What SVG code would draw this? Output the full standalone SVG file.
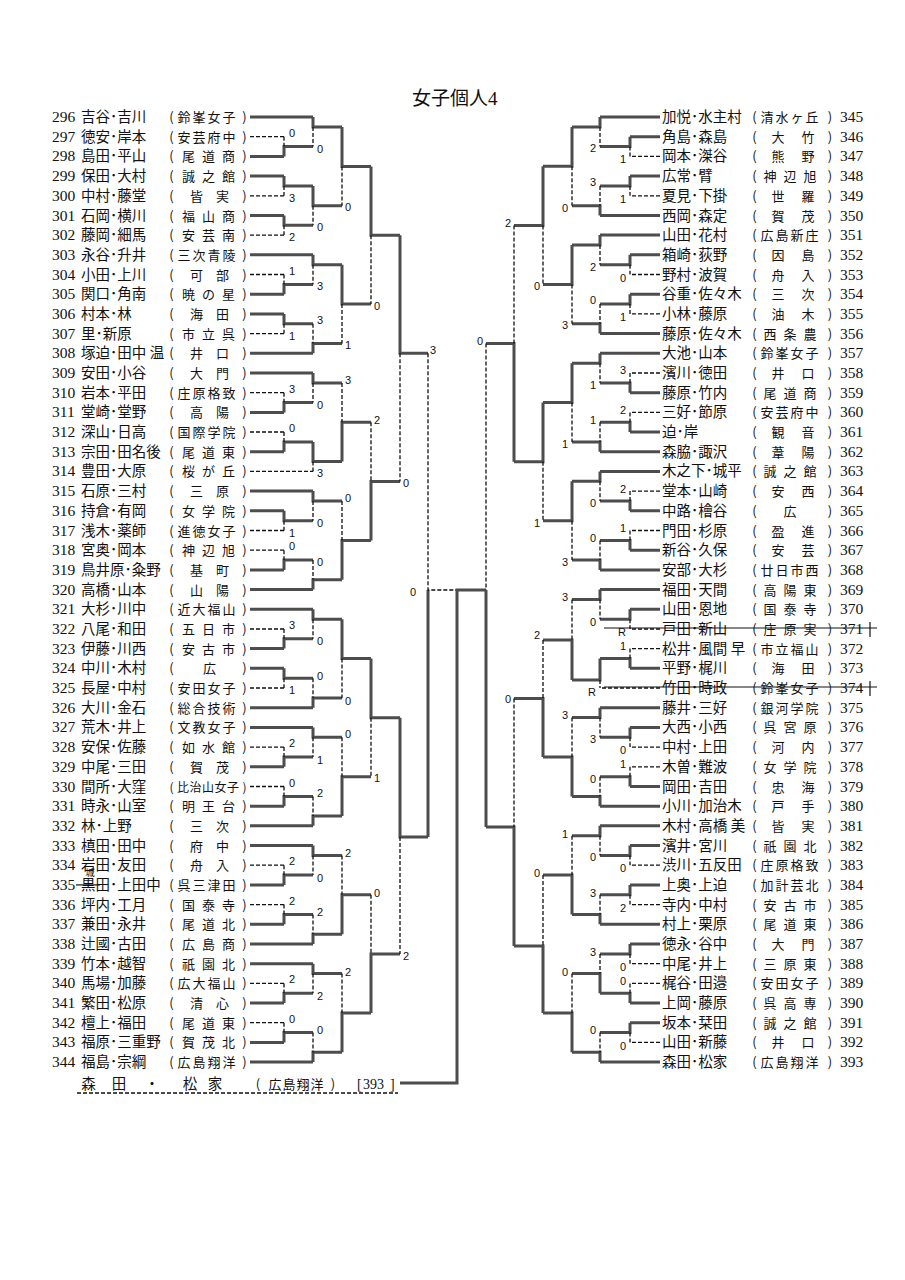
<svg xmlns="http://www.w3.org/2000/svg" width="905" height="1280" viewBox="0 0 905 1280">
<style>
.t{fill:none;stroke:#4d4d4d;stroke-width:3}
.d{fill:none;stroke:#111;stroke-width:1.3;stroke-dasharray:4 2}
.num{font-family:"Liberation Serif",serif;font-size:15.5px;fill:#111}
.nm{font-family:"Liberation Serif","Noto Sans CJK JP",sans-serif;font-size:14.5px;fill:#111}
.sc{font-family:"Noto Sans CJK JP",sans-serif;font-size:13px;text-anchor:middle;fill:#111}
.sl{font-family:"Liberation Sans",sans-serif;font-size:11px;fill:#111}
.sr{font-family:"Liberation Sans",sans-serif;font-size:11px;fill:#111;text-anchor:end}
.ttl{font-family:"Liberation Serif","Noto Sans CJK JP",serif;font-size:19px;fill:#111}
.st{stroke:#111;stroke-width:1.2}
</style>
<rect width="905" height="1280" fill="#fff"/>
<text class="ttl" x="412" y="105">女子個人4</text>

<g id="left-entries">
<g id="n296" transform="translate(0 117)"><text class="num" x="52" y="5">296</text><text class="nm" x="81" y="5">吉谷･吉川</text><text class="sc" x="171.5 184 199 214 229 244.5" y="5">(鈴峯女子)</text></g>
<g id="n297" transform="translate(0 136.7)"><text class="num" x="52" y="5">297</text><text class="nm" x="81" y="5">徳安･岸本</text><text class="sc" x="171.5 184 199 214 229 244.5" y="5">(安芸府中)</text></g>
<g id="n298" transform="translate(0 156.4)"><text class="num" x="52" y="5">298</text><text class="nm" x="81" y="5">島田･平山</text><text class="sc" x="171.5 188.5 208.5 228.5 244.5" y="5">(尾道商)</text></g>
<g id="n299" transform="translate(0 176.1)"><text class="num" x="52" y="5">299</text><text class="nm" x="81" y="5">保田･大村</text><text class="sc" x="171.5 188.5 208.5 228.5 244.5" y="5">(誠之館)</text></g>
<g id="n300" transform="translate(0 195.8)"><text class="num" x="52" y="5">300</text><text class="nm" x="81" y="5">中村･藤堂</text><text class="sc" x="171.5 196.5 222.5 244.5" y="5">(皆実)</text></g>
<g id="n301" transform="translate(0 215.5)"><text class="num" x="52" y="5">301</text><text class="nm" x="81" y="5">石岡･横川</text><text class="sc" x="171.5 188.5 208.5 228.5 244.5" y="5">(福山商)</text></g>
<g id="n302" transform="translate(0 235.1)"><text class="num" x="52" y="5">302</text><text class="nm" x="81" y="5">藤岡･細馬</text><text class="sc" x="171.5 188.5 208.5 228.5 244.5" y="5">(安芸南)</text></g>
<g id="n303" transform="translate(0 254.8)"><text class="num" x="52" y="5">303</text><text class="nm" x="81" y="5">永谷･升井</text><text class="sc" x="171.5 184 199 214 229 244.5" y="5">(三次青陵)</text></g>
<g id="n304" transform="translate(0 274.5)"><text class="num" x="52" y="5">304</text><text class="nm" x="81" y="5">小田･上川</text><text class="sc" x="171.5 196.5 222.5 244.5" y="5">(可部)</text></g>
<g id="n305" transform="translate(0 294.2)"><text class="num" x="52" y="5">305</text><text class="nm" x="81" y="5">関口･角南</text><text class="sc" x="171.5 188.5 208.5 228.5 244.5" y="5">(暁の星)</text></g>
<g id="n306" transform="translate(0 313.9)"><text class="num" x="52" y="5">306</text><text class="nm" x="81" y="5">村本･林</text><text class="sc" x="171.5 196.5 222.5 244.5" y="5">(海田)</text></g>
<g id="n307" transform="translate(0 333.6)"><text class="num" x="52" y="5">307</text><text class="nm" x="81" y="5">里･新原</text><text class="sc" x="171.5 188.5 208.5 228.5 244.5" y="5">(市立呉)</text></g>
<g id="n308" transform="translate(0 353.3)"><text class="num" x="52" y="5">308</text><text class="nm" x="81" y="5">塚迫･田中 温</text><text class="sc" x="171.5 196.5 222.5 244.5" y="5">(井口)</text></g>
<g id="n309" transform="translate(0 373)"><text class="num" x="52" y="5">309</text><text class="nm" x="81" y="5">安田･小谷</text><text class="sc" x="171.5 196.5 222.5 244.5" y="5">(大門)</text></g>
<g id="n310" transform="translate(0 392.7)"><text class="num" x="52" y="5">310</text><text class="nm" x="81" y="5">岩本･平田</text><text class="sc" x="171.5 184 199 214 229 244.5" y="5">(庄原格致)</text></g>
<g id="n311" transform="translate(0 412.4)"><text class="num" x="52" y="5">311</text><text class="nm" x="81" y="5">堂崎･堂野</text><text class="sc" x="171.5 196.5 222.5 244.5" y="5">(高陽)</text></g>
<g id="n312" transform="translate(0 432)"><text class="num" x="52" y="5">312</text><text class="nm" x="81" y="5">深山･日高</text><text class="sc" x="171.5 184 199 214 229 244.5" y="5">(国際学院)</text></g>
<g id="n313" transform="translate(0 451.7)"><text class="num" x="52" y="5">313</text><text class="nm" x="81" y="5">宗田･田名後</text><text class="sc" x="171.5 188.5 208.5 228.5 244.5" y="5">(尾道東)</text></g>
<g id="n314" transform="translate(0 471.4)"><text class="num" x="52" y="5">314</text><text class="nm" x="81" y="5">豊田･大原</text><text class="sc" x="171.5 188.5 208.5 228.5 244.5" y="5">(桜が丘)</text></g>
<g id="n315" transform="translate(0 491.1)"><text class="num" x="52" y="5">315</text><text class="nm" x="81" y="5">石原･三村</text><text class="sc" x="171.5 196.5 222.5 244.5" y="5">(三原)</text></g>
<g id="n316" transform="translate(0 510.8)"><text class="num" x="52" y="5">316</text><text class="nm" x="81" y="5">持倉･有岡</text><text class="sc" x="171.5 188.5 208.5 228.5 244.5" y="5">(女学院)</text></g>
<g id="n317" transform="translate(0 530.5)"><text class="num" x="52" y="5">317</text><text class="nm" x="81" y="5">浅木･薬師</text><text class="sc" x="171.5 184 199 214 229 244.5" y="5">(進徳女子)</text></g>
<g id="n318" transform="translate(0 550.2)"><text class="num" x="52" y="5">318</text><text class="nm" x="81" y="5">宮奥･岡本</text><text class="sc" x="171.5 188.5 208.5 228.5 244.5" y="5">(神辺旭)</text></g>
<g id="n319" transform="translate(0 569.9)"><text class="num" x="52" y="5">319</text><text class="nm" x="81" y="5">鳥井原･粂野</text><text class="sc" x="171.5 196.5 222.5 244.5" y="5">(基町)</text></g>
<g id="n320" transform="translate(0 589.6)"><text class="num" x="52" y="5">320</text><text class="nm" x="81" y="5">高橋･山本</text><text class="sc" x="171.5 196.5 222.5 244.5" y="5">(山陽)</text></g>
<g id="n321" transform="translate(0 609.3)"><text class="num" x="52" y="5">321</text><text class="nm" x="81" y="5">大杉･川中</text><text class="sc" x="171.5 184 199 214 229 244.5" y="5">(近大福山)</text></g>
<g id="n322" transform="translate(0 629)"><text class="num" x="52" y="5">322</text><text class="nm" x="81" y="5">八尾･和田</text><text class="sc" x="171.5 188.5 208.5 228.5 244.5" y="5">(五日市)</text></g>
<g id="n323" transform="translate(0 648.6)"><text class="num" x="52" y="5">323</text><text class="nm" x="81" y="5">伊藤･川西</text><text class="sc" x="171.5 188.5 208.5 228.5 244.5" y="5">(安古市)</text></g>
<g id="n324" transform="translate(0 668.3)"><text class="num" x="52" y="5">324</text><text class="nm" x="81" y="5">中川･木村</text><text class="sc" x="171.5 209.5 244.5" y="5">(広)</text></g>
<g id="n325" transform="translate(0 688)"><text class="num" x="52" y="5">325</text><text class="nm" x="81" y="5">長屋･中村</text><text class="sc" x="171.5 184 199 214 229 244.5" y="5">(安田女子)</text></g>
<g id="n326" transform="translate(0 707.7)"><text class="num" x="52" y="5">326</text><text class="nm" x="81" y="5">大川･金石</text><text class="sc" x="171.5 184 199 214 229 244.5" y="5">(総合技術)</text></g>
<g id="n327" transform="translate(0 727.4)"><text class="num" x="52" y="5">327</text><text class="nm" x="81" y="5">荒木･井上</text><text class="sc" x="171.5 184 199 214 229 244.5" y="5">(文教女子)</text></g>
<g id="n328" transform="translate(0 747.1)"><text class="num" x="52" y="5">328</text><text class="nm" x="81" y="5">安保･佐藤</text><text class="sc" x="171.5 188.5 208.5 228.5 244.5" y="5">(如水館)</text></g>
<g id="n329" transform="translate(0 766.8)"><text class="num" x="52" y="5">329</text><text class="nm" x="81" y="5">中尾･三田</text><text class="sc" x="171.5 196.5 222.5 244.5" y="5">(賀茂)</text></g>
<g id="n330" transform="translate(0 786.5)"><text class="num" x="52" y="5">330</text><text class="nm" x="81" y="5">間所･大窪</text><text class="sc" x="171.5 183 195.5 208 220.5 233 244.5" y="5" style="font-size:12px">(比治山女子)</text></g>
<g id="n331" transform="translate(0 806.2)"><text class="num" x="52" y="5">331</text><text class="nm" x="81" y="5">時永･山室</text><text class="sc" x="171.5 188.5 208.5 228.5 244.5" y="5">(明王台)</text></g>
<g id="n332" transform="translate(0 825.8)"><text class="num" x="52" y="5">332</text><text class="nm" x="81" y="5">林･上野</text><text class="sc" x="171.5 196.5 222.5 244.5" y="5">(三次)</text></g>
<g id="n333" transform="translate(0 845.5)"><text class="num" x="52" y="5">333</text><text class="nm" x="81" y="5">槙田･田中</text><text class="sc" x="171.5 196.5 222.5 244.5" y="5">(府中)</text></g>
<g id="n334" transform="translate(0 865.2)"><text class="num" x="52" y="5">334</text><text class="nm" x="81" y="5">岩田･友田</text><text class="sc" x="171.5 196.5 222.5 244.5" y="5">(舟入)</text></g>
<g id="n335" transform="translate(0 884.9)"><text class="num" x="52" y="5">335</text><text class="nm" x="81" y="5">黒田･上田中</text><text class="sc" x="171.5 184 199 214 229 244.5" y="5">(呉三津田)</text><line class="st" x1="76" y1="0" x2="100" y2="0"/><text class="sc" x="90" y="-8.5" style="font-size:9.5px">城</text></g>
<g id="n336" transform="translate(0 904.6)"><text class="num" x="52" y="5">336</text><text class="nm" x="81" y="5">坪内･工月</text><text class="sc" x="171.5 188.5 208.5 228.5 244.5" y="5">(国泰寺)</text></g>
<g id="n337" transform="translate(0 924.3)"><text class="num" x="52" y="5">337</text><text class="nm" x="81" y="5">兼田･永井</text><text class="sc" x="171.5 188.5 208.5 228.5 244.5" y="5">(尾道北)</text></g>
<g id="n338" transform="translate(0 944)"><text class="num" x="52" y="5">338</text><text class="nm" x="81" y="5">辻國･古田</text><text class="sc" x="171.5 188.5 208.5 228.5 244.5" y="5">(広島商)</text></g>
<g id="n339" transform="translate(0 963.7)"><text class="num" x="52" y="5">339</text><text class="nm" x="81" y="5">竹本･越智</text><text class="sc" x="171.5 188.5 208.5 228.5 244.5" y="5">(祇園北)</text></g>
<g id="n340" transform="translate(0 983.4)"><text class="num" x="52" y="5">340</text><text class="nm" x="81" y="5">馬場･加藤</text><text class="sc" x="171.5 184 199 214 229 244.5" y="5">(広大福山)</text></g>
<g id="n341" transform="translate(0 1003.1)"><text class="num" x="52" y="5">341</text><text class="nm" x="81" y="5">繁田･松原</text><text class="sc" x="171.5 196.5 222.5 244.5" y="5">(清心)</text></g>
<g id="n342" transform="translate(0 1022.7)"><text class="num" x="52" y="5">342</text><text class="nm" x="81" y="5">檀上･福田</text><text class="sc" x="171.5 188.5 208.5 228.5 244.5" y="5">(尾道東)</text></g>
<g id="n343" transform="translate(0 1042.4)"><text class="num" x="52" y="5">343</text><text class="nm" x="81" y="5">福原･三重野</text><text class="sc" x="171.5 188.5 208.5 228.5 244.5" y="5">(賀茂北)</text></g>
<g id="n344" transform="translate(0 1062.1)"><text class="num" x="52" y="5">344</text><text class="nm" x="81" y="5">福島･宗綱</text><text class="sc" x="171.5 184 199 214 229 244.5" y="5">(広島翔洋)</text></g>
</g>

<g id="champion" transform="translate(0 1083)">
<text class="nm" x="88.5 119 152 190 215" y="5.5" style="text-anchor:middle">森田・松家</text>
<text class="sc" x="258 275 289 303 317 333" y="5.5" style="font-size:13px">(広島翔洋)</text>
<text class="num" x="357" y="5.5" style="font-size:14px">[</text>
<text class="num" x="363" y="5.5" style="font-size:14px">393</text>
<text class="num" x="390" y="5.5" style="font-size:14px">]</text>
<path class="d" d="M77 10H398"/>
</g>

<g id="right-entries">
<g id="n345" transform="translate(0 117)"><text class="nm" x="662" y="5">加悦･水主村</text><text class="sc" x="754.5 767 782 797 812 830" y="5">(清水ヶ丘)</text><text class="num" x="840" y="5">345</text></g>
<g id="n346" transform="translate(0 136.7)"><text class="nm" x="662" y="5">角島･森島</text><text class="sc" x="754.5 778 808 830" y="5">(大竹)</text><text class="num" x="840" y="5">346</text></g>
<g id="n347" transform="translate(0 156.4)"><text class="nm" x="662" y="5">岡本･滐谷</text><text class="sc" x="754.5 778 808 830" y="5">(熊野)</text><text class="num" x="840" y="5">347</text></g>
<g id="n348" transform="translate(0 176.1)"><text class="nm" x="662" y="5">広常･臂</text><text class="sc" x="754.5 770 790 810 830" y="5">(神辺旭)</text><text class="num" x="840" y="5">348</text></g>
<g id="n349" transform="translate(0 195.8)"><text class="nm" x="662" y="5">夏見･下掛</text><text class="sc" x="754.5 778 808 830" y="5">(世羅)</text><text class="num" x="840" y="5">349</text></g>
<g id="n350" transform="translate(0 215.5)"><text class="nm" x="662" y="5">西岡･森定</text><text class="sc" x="754.5 778 808 830" y="5">(賀茂)</text><text class="num" x="840" y="5">350</text></g>
<g id="n351" transform="translate(0 235.1)"><text class="nm" x="662" y="5">山田･花村</text><text class="sc" x="754.5 767 782 797 812 830" y="5">(広島新庄)</text><text class="num" x="840" y="5">351</text></g>
<g id="n352" transform="translate(0 254.8)"><text class="nm" x="662" y="5">箱崎･荻野</text><text class="sc" x="754.5 778 808 830" y="5">(因島)</text><text class="num" x="840" y="5">352</text></g>
<g id="n353" transform="translate(0 274.5)"><text class="nm" x="662" y="5">野村･波賀</text><text class="sc" x="754.5 778 808 830" y="5">(舟入)</text><text class="num" x="840" y="5">353</text></g>
<g id="n354" transform="translate(0 294.2)"><text class="nm" x="662" y="5">谷重･佐々木</text><text class="sc" x="754.5 778 808 830" y="5">(三次)</text><text class="num" x="840" y="5">354</text></g>
<g id="n355" transform="translate(0 313.9)"><text class="nm" x="662" y="5">小林･藤原</text><text class="sc" x="754.5 778 808 830" y="5">(油木)</text><text class="num" x="840" y="5">355</text></g>
<g id="n356" transform="translate(0 333.6)"><text class="nm" x="662" y="5">藤原･佐々木</text><text class="sc" x="754.5 770 790 810 830" y="5">(西条農)</text><text class="num" x="840" y="5">356</text></g>
<g id="n357" transform="translate(0 353.3)"><text class="nm" x="662" y="5">大池･山本</text><text class="sc" x="754.5 767 782 797 812 830" y="5">(鈴峯女子)</text><text class="num" x="840" y="5">357</text></g>
<g id="n358" transform="translate(0 373)"><text class="nm" x="662" y="5">濱川･徳田</text><text class="sc" x="754.5 778 808 830" y="5">(井口)</text><text class="num" x="840" y="5">358</text></g>
<g id="n359" transform="translate(0 392.7)"><text class="nm" x="662" y="5">藤原･竹内</text><text class="sc" x="754.5 770 790 810 830" y="5">(尾道商)</text><text class="num" x="840" y="5">359</text></g>
<g id="n360" transform="translate(0 412.4)"><text class="nm" x="662" y="5">三好･節原</text><text class="sc" x="754.5 767 782 797 812 830" y="5">(安芸府中)</text><text class="num" x="840" y="5">360</text></g>
<g id="n361" transform="translate(0 432)"><text class="nm" x="662" y="5">迫･岸</text><text class="sc" x="754.5 778 808 830" y="5">(観音)</text><text class="num" x="840" y="5">361</text></g>
<g id="n362" transform="translate(0 451.7)"><text class="nm" x="662" y="5">森脇･諏沢</text><text class="sc" x="754.5 778 808 830" y="5">(葦陽)</text><text class="num" x="840" y="5">362</text></g>
<g id="n363" transform="translate(0 471.4)"><text class="nm" x="662" y="5">木之下･城平</text><text class="sc" x="754.5 770 790 810 830" y="5">(誠之館)</text><text class="num" x="840" y="5">363</text></g>
<g id="n364" transform="translate(0 491.1)"><text class="nm" x="662" y="5">堂本･山崎</text><text class="sc" x="754.5 778 808 830" y="5">(安西)</text><text class="num" x="840" y="5">364</text></g>
<g id="n365" transform="translate(0 510.8)"><text class="nm" x="662" y="5">中路･檜谷</text><text class="sc" x="754.5 790 830" y="5">(広)</text><text class="num" x="840" y="5">365</text></g>
<g id="n366" transform="translate(0 530.5)"><text class="nm" x="662" y="5">門田･杉原</text><text class="sc" x="754.5 778 808 830" y="5">(盈進)</text><text class="num" x="840" y="5">366</text></g>
<g id="n367" transform="translate(0 550.2)"><text class="nm" x="662" y="5">新谷･久保</text><text class="sc" x="754.5 778 808 830" y="5">(安芸)</text><text class="num" x="840" y="5">367</text></g>
<g id="n368" transform="translate(0 569.9)"><text class="nm" x="662" y="5">安部･大杉</text><text class="sc" x="754.5 767 782 797 812 830" y="5">(廿日市西)</text><text class="num" x="840" y="5">368</text></g>
<g id="n369" transform="translate(0 589.6)"><text class="nm" x="662" y="5">福田･天間</text><text class="sc" x="754.5 770 790 810 830" y="5">(高陽東)</text><text class="num" x="840" y="5">369</text></g>
<g id="n370" transform="translate(0 609.3)"><text class="nm" x="662" y="5">山田･恩地</text><text class="sc" x="754.5 770 790 810 830" y="5">(国泰寺)</text><text class="num" x="840" y="5">370</text></g>
<g id="n371" transform="translate(0 629)"><text class="nm" x="662" y="5">戸田･新山</text><text class="sc" x="754.5 770 790 810 830" y="5">(庄原実)</text><text class="num" x="840" y="5">371</text><line class="st" x1="604" y1="-1" x2="877" y2="-1"/><line class="st" x1="870" y1="-7" x2="870" y2="8"/></g>
<g id="n372" transform="translate(0 648.6)"><text class="nm" x="662" y="5">松井･風間 早</text><text class="sc" x="754.5 767 782 797 812 830" y="5">(市立福山)</text><text class="num" x="840" y="5">372</text></g>
<g id="n373" transform="translate(0 668.3)"><text class="nm" x="662" y="5">平野･梶川</text><text class="sc" x="754.5 778 808 830" y="5">(海田)</text><text class="num" x="840" y="5">373</text></g>
<g id="n374" transform="translate(0 688)"><text class="nm" x="662" y="5">竹田･時政</text><text class="sc" x="754.5 767 782 797 812 830" y="5">(鈴峯女子)</text><text class="num" x="840" y="5">374</text><line class="st" x1="604" y1="-1" x2="877" y2="-1"/><line class="st" x1="870" y1="-7" x2="870" y2="8"/></g>
<g id="n375" transform="translate(0 707.7)"><text class="nm" x="662" y="5">藤井･三好</text><text class="sc" x="754.5 767 782 797 812 830" y="5">(銀河学院)</text><text class="num" x="840" y="5">375</text></g>
<g id="n376" transform="translate(0 727.4)"><text class="nm" x="662" y="5">大西･小西</text><text class="sc" x="754.5 770 790 810 830" y="5">(呉宮原)</text><text class="num" x="840" y="5">376</text></g>
<g id="n377" transform="translate(0 747.1)"><text class="nm" x="662" y="5">中村･上田</text><text class="sc" x="754.5 778 808 830" y="5">(河内)</text><text class="num" x="840" y="5">377</text></g>
<g id="n378" transform="translate(0 766.8)"><text class="nm" x="662" y="5">木曽･難波</text><text class="sc" x="754.5 770 790 810 830" y="5">(女学院)</text><text class="num" x="840" y="5">378</text></g>
<g id="n379" transform="translate(0 786.5)"><text class="nm" x="662" y="5">岡田･吉田</text><text class="sc" x="754.5 778 808 830" y="5">(忠海)</text><text class="num" x="840" y="5">379</text></g>
<g id="n380" transform="translate(0 806.2)"><text class="nm" x="662" y="5">小川･加治木</text><text class="sc" x="754.5 778 808 830" y="5">(戸手)</text><text class="num" x="840" y="5">380</text></g>
<g id="n381" transform="translate(0 825.8)"><text class="nm" x="662" y="5">木村･高橋 美</text><text class="sc" x="754.5 778 808 830" y="5">(皆実)</text><text class="num" x="840" y="5">381</text></g>
<g id="n382" transform="translate(0 845.5)"><text class="nm" x="662" y="5">濱井･宮川</text><text class="sc" x="754.5 770 790 810 830" y="5">(祇園北)</text><text class="num" x="840" y="5">382</text></g>
<g id="n383" transform="translate(0 865.2)"><text class="nm" x="662" y="5">渋川･五反田</text><text class="sc" x="754.5 767 782 797 812 830" y="5">(庄原格致)</text><text class="num" x="840" y="5">383</text></g>
<g id="n384" transform="translate(0 884.9)"><text class="nm" x="662" y="5">上奥･上迫</text><text class="sc" x="754.5 767 782 797 812 830" y="5">(加計芸北)</text><text class="num" x="840" y="5">384</text></g>
<g id="n385" transform="translate(0 904.6)"><text class="nm" x="662" y="5">寺内･中村</text><text class="sc" x="754.5 770 790 810 830" y="5">(安古市)</text><text class="num" x="840" y="5">385</text></g>
<g id="n386" transform="translate(0 924.3)"><text class="nm" x="662" y="5">村上･栗原</text><text class="sc" x="754.5 770 790 810 830" y="5">(尾道東)</text><text class="num" x="840" y="5">386</text></g>
<g id="n387" transform="translate(0 944)"><text class="nm" x="662" y="5">徳永･谷中</text><text class="sc" x="754.5 778 808 830" y="5">(大門)</text><text class="num" x="840" y="5">387</text></g>
<g id="n388" transform="translate(0 963.7)"><text class="nm" x="662" y="5">中尾･井上</text><text class="sc" x="754.5 770 790 810 830" y="5">(三原東)</text><text class="num" x="840" y="5">388</text></g>
<g id="n389" transform="translate(0 983.4)"><text class="nm" x="662" y="5">梶谷･田邉</text><text class="sc" x="754.5 767 782 797 812 830" y="5">(安田女子)</text><text class="num" x="840" y="5">389</text></g>
<g id="n390" transform="translate(0 1003.1)"><text class="nm" x="662" y="5">上岡･藤原</text><text class="sc" x="754.5 770 790 810 830" y="5">(呉高専)</text><text class="num" x="840" y="5">390</text></g>
<g id="n391" transform="translate(0 1022.7)"><text class="nm" x="662" y="5">坂本･栞田</text><text class="sc" x="754.5 770 790 810 830" y="5">(誠之館)</text><text class="num" x="840" y="5">391</text></g>
<g id="n392" transform="translate(0 1042.4)"><text class="nm" x="662" y="5">山田･新藤</text><text class="sc" x="754.5 778 808 830" y="5">(井口)</text><text class="num" x="840" y="5">392</text></g>
<g id="n393" transform="translate(0 1062.1)"><text class="nm" x="662" y="5">森田･松家</text><text class="sc" x="754.5 767 782 797 812 830" y="5">(広島翔洋)</text><text class="num" x="840" y="5">393</text></g>
</g>

<g id="connectors">
<path class="t" d="M250 117H313M250 156.4H284M250 176.1H284M250 215.5H284M250 254.8H313M250 294.2H284M250 313.9H284M250 353.3H313M250 373H313M250 412.4H284M250 451.7H284M250 491.1H313M250 510.8H284M250 569.9H284M250 589.6H313M250 609.3H313M250 648.6H284M250 668.3H284M250 707.7H313M250 727.4H313M250 766.8H284M250 806.2H284M250 825.8H313M250 845.5H313M250 884.9H284M250 924.3H284M250 944H313M250 963.7H313M250 1003.1H284M250 1042.4H284M250 1062.1H313"/>
<path class="d" d="M250 136.7H284M250 195.8H284M250 235.1H284M250 274.5H284M250 333.6H284M250 392.7H284M250 432H284M250 471.4H313M250 530.5H284M250 550.2H284M250 629H284M250 688H284M250 747.1H284M250 786.5H284M250 865.2H284M250 904.6H284M250 983.4H284M250 1022.7H284"/>
<path class="t" d="M284 156.4V146.6H313M284 176.1V186H313M284 215.5V225.3H313M284 294.2V284.4H313M284 313.9V323.8H313M284 412.4V402.6H313M284 451.7V441.9H313M284 510.8V520.7H313M284 569.9V560H313M284 648.6V638.8H313M284 668.3V678.2H313M284 766.8V757H313M284 806.2V796.4H313M284 884.9V875H313M284 924.3V914.5H313M284 1003.1V993.2H313M284 1042.4V1032.6H313"/>
<path class="d" d="M284 136.7V146.6M284 186V195.8M284 225.3V235.1M284 274.5V284.4M284 323.8V333.6M284 392.7V402.6M284 432V441.9M284 520.7V530.5M284 550.2V560M284 629V638.8M284 678.2V688M284 747.1V757M284 786.5V796.4M284 865.2V875M284 904.6V914.5M284 983.4V993.2M284 1022.7V1032.6"/>
<path class="t" d="M313 117V127H342M313 186V205.7H342M313 254.8V264.7H342M313 353.3V343.5H342M313 373V382.9H342M313 441.9V461.6H342M313 491.1V501H342M313 589.6V579.8H342M313 609.3V619.2H342M313 707.7V697.9H342M313 727.4V737.3H342M313 825.8V816.1H342M313 845.5V855.4H342M313 944V934.2H342M313 963.7V973.6H342M313 1062.1V1052.3H342"/>
<path class="d" d="M313 127V146.6M313 205.7V225.3M313 264.7V284.4M313 323.8V343.5M313 382.9V402.6M313 461.6V471.4M313 501V520.7M313 560V579.8M313 619.2V638.8M313 678.2V697.9M313 737.3V757M313 796.4V816.1M313 855.4V875M313 914.5V934.2M313 973.6V993.2M313 1032.6V1052.3"/>
<path class="t" d="M342 127V166.4H371M342 264.7V304.1H371M342 461.6V422.3H371M342 579.8V540.4H371M342 619.2V658.6H371M342 816.1V776.7H371M342 934.2V894.8H371M342 1052.3V1013H371"/>
<path class="d" d="M342 166.4V205.7M342 304.1V343.5M342 382.9V422.3M342 501V540.4M342 658.6V697.9M342 737.3V776.7M342 855.4V894.8M342 973.6V1013"/>
<path class="t" d="M371 166.4V235.3H400M371 540.4V481.4H400M371 658.6V717.7H400M371 1013V953.9H400"/>
<path class="d" d="M371 235.3V304.1M371 422.3V481.4M371 717.7V776.7M371 894.8V953.9"/>
<path class="t" d="M400 235.3V353.3H428M400 717.7V837H428"/>
<path class="d" d="M400 353.3V481.4M400 837V953.9"/>
<path class="t" d="M428 837V590"/>
<path class="d" d="M428 353.3V590H457"/>
<path class="t" d="M486 590H457V1083H400"/>
<path class="t" d="M660 117H600M660 136.7H630M660 176.1H630M660 215.5H600M660 235.1H600M660 254.8H630M660 294.2H630M660 333.6H600M660 353.3H600M660 392.7H630M660 432H630M660 451.7H600M660 471.4H600M660 510.8H630M660 550.2H630M660 569.9H600M660 589.6H600M660 609.3H630M660 668.3H630M660 707.7H600M660 727.4H630M660 786.5H630M660 806.2H600M660 825.8H600M660 845.5H630M660 884.9H630M660 924.3H600M660 944H630M660 1003.1H630M660 1022.7H630M660 1062.1H600"/>
<path class="d" d="M660 156.4H630M660 195.8H630M660 274.5H630M660 313.9H630M660 373H630M660 412.4H630M660 491.1H630M660 530.5H630M660 629H630M660 648.6H630M660 688H600M660 747.1H630M660 766.8H630M660 865.2H630M660 904.6H630M660 963.7H630M660 983.4H630M660 1042.4H630"/>
<path class="t" d="M630 136.7V146.6H600M630 176.1V186H600M630 254.8V264.7H600M630 294.2V304H600M630 392.7V382.9H600M630 432V422.2H600M630 510.8V501H600M630 550.2V540.4H600M630 609.3V619.2H600M630 668.3V658.5H600M630 727.4V737.3H600M630 786.5V776.7H600M630 845.5V855.4H600M630 884.9V894.8H600M630 944V953.9H600M630 1003.1V993.2H600M630 1022.7V1032.6H600"/>
<path class="d" d="M630 146.6V156.4M630 186V195.8M630 264.7V274.5M630 304V313.9M630 373V382.9M630 412.4V422.2M630 491.1V501M630 530.5V540.4M630 619.2V629M630 648.6V658.5M630 737.3V747.1M630 766.8V776.7M630 855.4V865.2M630 894.8V904.6M630 953.9V963.7M630 983.4V993.2M630 1032.6V1042.4"/>
<path class="t" d="M600 117V126.9H572M600 215.5V205.7H572M600 235.1V245H572M600 333.6V323.8H572M600 353.3V363.2H572M600 451.7V441.9H572M600 471.4V481.3H572M600 569.9V560H572M600 589.6V599.5H572M600 658.5V680H572M600 707.7V717.6H572M600 806.2V796.4H572M600 825.8V835.7H572M600 924.3V914.5H572M600 993.2V973.6H572M600 1062.1V1052.3H572"/>
<path class="d" d="M600 126.9V146.6M600 186V205.7M600 245V264.7M600 304V323.8M600 363.2V382.9M600 422.2V441.9M600 481.3V501M600 540.4V560M600 599.5V619.2M600 680V688M600 717.6V737.3M600 776.7V796.4M600 835.7V855.4M600 894.8V914.5M600 953.9V973.6M600 1032.6V1052.3"/>
<path class="t" d="M572 126.9V166.3H543M572 245V284.4H543M572 363.2V402.6H543M572 481.3V520.7H543M572 680V640H543M572 796.4V757H543M572 914.5V875.1H543M572 1052.3V1013H543"/>
<path class="d" d="M572 166.3V205.7M572 284.4V323.8M572 402.6V441.9M572 520.7V560M572 599.5V640M572 717.6V757M572 835.7V875.1M572 973.6V1013"/>
<path class="t" d="M543 166.3V225.4H514M543 402.6V461.7H514M543 757V698.5H514M543 1013V946H514"/>
<path class="d" d="M543 225.4V284.4M543 461.7V520.7M543 640V698.5M543 875.1V946"/>
<path class="t" d="M514 461.7V343.5H486M514 946V827H486"/>
<path class="d" d="M514 225.4V343.5M514 698.5V827"/>
<path class="t" d="M486 827V590"/>
<path class="d" d="M486 343.5V590"/>
</g>

<g id="scores">
<text class="sl" x="289" y="136.7">0</text><text class="sl" x="289" y="201.8">3</text><text class="sl" x="289" y="241.1">2</text><text class="sl" x="289" y="274.5">1</text><text class="sl" x="289" y="339.6">1</text><text class="sl" x="289" y="392.7">3</text><text class="sl" x="289" y="432">0</text><text class="sl" x="289" y="536.5">1</text><text class="sl" x="289" y="550.2">0</text><text class="sl" x="289" y="629">3</text><text class="sl" x="289" y="694">1</text><text class="sl" x="289" y="747.1">2</text><text class="sl" x="289" y="786.5">0</text><text class="sl" x="289" y="865.2">2</text><text class="sl" x="289" y="904.6">2</text><text class="sl" x="289" y="983.4">2</text><text class="sl" x="289" y="1022.7">0</text>
<text class="sl" x="317" y="152.6">0</text><text class="sl" x="317" y="231.3">0</text><text class="sl" x="317" y="290.4">3</text><text class="sl" x="317" y="323.8">3</text><text class="sl" x="317" y="408.6">0</text><text class="sl" x="317" y="477.4">3</text><text class="sl" x="317" y="526.7">0</text><text class="sl" x="317" y="566">0</text><text class="sl" x="317" y="644.8">0</text><text class="sl" x="317" y="679.5">0</text><text class="sl" x="317" y="763.5">1</text><text class="sl" x="317" y="797">2</text><text class="sl" x="317" y="881.5">0</text><text class="sl" x="317" y="916">2</text><text class="sl" x="317" y="999.5">2</text><text class="sl" x="317" y="1034">0</text>
<text class="sl" x="345" y="211">0</text><text class="sl" x="345" y="349">1</text><text class="sl" x="345" y="384">3</text><text class="sl" x="345" y="502">0</text><text class="sl" x="345" y="704.5">0</text><text class="sl" x="345" y="738">0</text><text class="sl" x="345" y="857">2</text><text class="sl" x="345" y="976">2</text>
<text class="sl" x="374" y="310">0</text><text class="sl" x="374" y="423.5">2</text><text class="sl" x="374" y="782">1</text><text class="sl" x="374" y="896.5">0</text>
<text class="sl" x="403" y="487">0</text><text class="sl" x="403" y="960">2</text>
<text class="sl" x="430" y="354">3</text>
<text class="sl" x="410" y="596">0</text>
<text class="sr" x="626" y="163">1</text><text class="sr" x="626" y="203">1</text><text class="sr" x="626" y="281.5">0</text><text class="sr" x="626" y="321">1</text><text class="sr" x="626" y="374">3</text><text class="sr" x="626" y="413.5">2</text><text class="sr" x="626" y="492.5">2</text><text class="sr" x="626" y="531.5">1</text><text class="sr" x="626" y="636">R</text><text class="sr" x="626" y="649.5">1</text><text class="sr" x="626" y="754">0</text><text class="sr" x="626" y="768">1</text><text class="sr" x="626" y="872">0</text><text class="sr" x="626" y="912">2</text><text class="sr" x="626" y="970.5">0</text><text class="sr" x="626" y="984.5">0</text><text class="sr" x="626" y="1049.5">0</text>
<text class="sr" x="596" y="152">2</text><text class="sr" x="596" y="186">3</text><text class="sr" x="596" y="271">2</text><text class="sr" x="596" y="304">0</text><text class="sr" x="596" y="389">1</text><text class="sr" x="596" y="423.5">1</text><text class="sr" x="596" y="507">0</text><text class="sr" x="596" y="541.5">0</text><text class="sr" x="596" y="625.5">0</text><text class="sr" x="596" y="695.5">R</text><text class="sr" x="596" y="743">3</text><text class="sr" x="596" y="782.5">0</text><text class="sr" x="596" y="861">0</text><text class="sr" x="596" y="896.5">3</text><text class="sr" x="596" y="955.5">3</text><text class="sr" x="596" y="1034">0</text>
<text class="sr" x="568" y="212">0</text><text class="sr" x="568" y="329">3</text><text class="sr" x="568" y="448">1</text><text class="sr" x="568" y="566">3</text><text class="sr" x="568" y="600.5">3</text><text class="sr" x="568" y="719">3</text><text class="sr" x="568" y="838">1</text><text class="sr" x="568" y="975.5">0</text>
<text class="sr" x="540" y="289.5">0</text><text class="sr" x="540" y="527">1</text><text class="sr" x="540" y="639">2</text><text class="sr" x="540" y="877">0</text>
<text class="sr" x="511" y="227">2</text><text class="sr" x="511" y="703">0</text>
<text class="sr" x="483" y="345">0</text>
</g>
</svg>
